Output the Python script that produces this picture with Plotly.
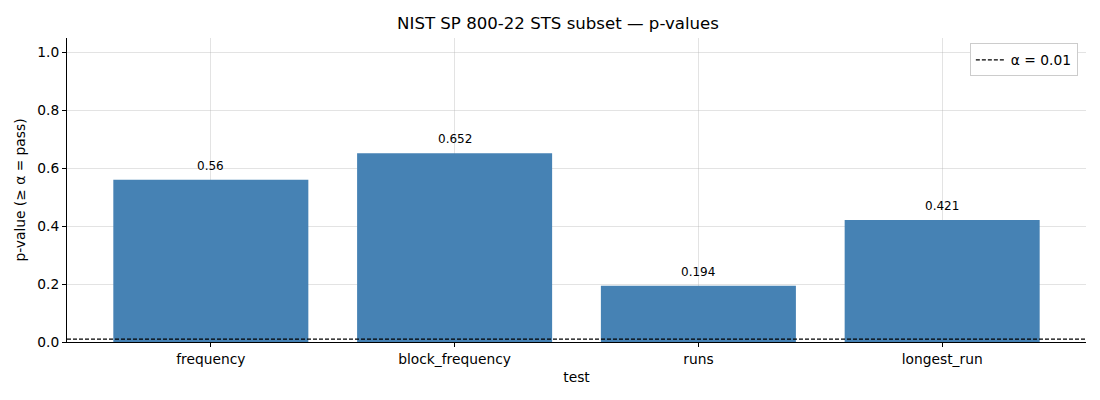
import plotly.graph_objects as go

tests = ["frequency", "block_frequency", "runs", "longest_run"]
p_values = [0.56, 0.652, 0.194, 0.421]
p_labels = ["0.56", "0.652", "0.194", "0.421"]
alpha = 0.01

fig = go.Figure()
fig.add_trace(go.Bar(
    x=tests, y=p_values, width=0.8,
    marker=dict(color="#4682B4", line=dict(width=0)),
    showlegend=False,
))
# alpha threshold line across the full width
fig.add_trace(go.Scatter(
    x=[-0.59, 3.59], y=[alpha, alpha], mode="lines",
    line=dict(color="black", width=1.2, dash="4px,2px"),
    name="α = 0.01", xaxis="x2",
))

for t, v, lab in zip(tests, p_values, p_labels):
    fig.add_annotation(x=t, y=v, text=lab, showarrow=False, yanchor="bottom",
                       yshift=5, font=dict(size=12, color="black"))

grid = "rgba(176,176,176,0.35)"
fig.update_layout(
    width=1100, height=400,
    margin=dict(l=59, r=22, t=30, b=66),
    paper_bgcolor="white", plot_bgcolor="white",
    font=dict(family="DejaVu Sans", size=13.8, color="black"),
    title=dict(text="NIST SP 800-22 STS subset — p-values", x=0.5, xanchor="center",
               y=0.962, yanchor="middle", font=dict(size=16.6)),
    xaxis=dict(title=dict(text="test", standoff=6, font=dict(size=13.8)), range=[-0.59, 3.59],
               tickfont=dict(size=13.8),
               showline=True, linecolor="black", linewidth=1,
               ticks="outside", ticklen=4, tickcolor="black",
               showgrid=True, gridcolor=grid, gridwidth=0.8,
               layer="above traces", zeroline=False),
    xaxis2=dict(range=[-0.59, 3.59], overlaying="x", visible=False),
    yaxis=dict(title=dict(text="p-value (≥ α = pass)", standoff=8, font=dict(size=13.8)),
               range=[0, 1.05], tickfont=dict(size=13.8),
               tickvals=[0, 0.2, 0.4, 0.6, 0.8, 1.0], tickformat=".1f",
               showline=True, linecolor="black", linewidth=1,
               ticks="outside", ticklen=4, tickcolor="black",
               showgrid=True, gridcolor=grid, gridwidth=0.8,
               layer="above traces", zeroline=False),
    legend=dict(x=0.992, y=0.982, xanchor="right", yanchor="top",
                bordercolor="#cccccc", borderwidth=1, bgcolor="white",
                font=dict(size=13.8), tracegroupgap=0),
    bargap=0.2,
)

fig.write_html("out.html")
